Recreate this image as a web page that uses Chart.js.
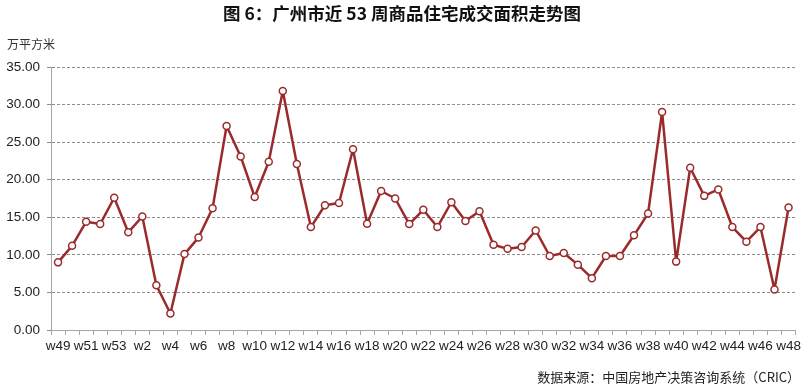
<!DOCTYPE html>
<html>
<head>
<meta charset="utf-8">
<script src="https://cdn.jsdelivr.net/npm/chart.js@4"></script>
<style>
  html, body { margin: 0; padding: 0; background: #fff; }
  #wrap { position: relative; width: 804px; height: 387px; }
  #chart { position: absolute; left: 0; top: 0; }
  .txt { position: absolute; font-family: "Noto Sans CJK SC", sans-serif; color: #222; white-space: nowrap; }
  #title { left: 0; width: 804px; top: 0px; text-align: center; font-size: 17.5px; font-weight: bold; color: #111; }
  #unit { left: 7px; top: 35px; font-size: 12px; color: #333; }
  #source { right: 4px; top: 367px; font-size: 13px; color: #222; }
</style>
</head>
<body>
<div id="wrap">
  <canvas id="chart" width="804" height="387"></canvas>
  <div class="txt" id="title">图 6：广州市近 53 周商品住宅成交面积走势图</div>
  <div class="txt" id="unit">万平方米</div>
  <div class="txt" id="source">数据来源：中国房地产决策咨询系统（CRIC）</div>
</div>
<script>
const weeks = ['w49', 'w50', 'w51', 'w52', 'w53',
  'w1', 'w2', 'w3', 'w4', 'w5', 'w6', 'w7', 'w8', 'w9', 'w10',
  'w11', 'w12', 'w13', 'w14', 'w15', 'w16', 'w17', 'w18', 'w19', 'w20',
  'w21', 'w22', 'w23', 'w24', 'w25', 'w26', 'w27', 'w28', 'w29', 'w30',
  'w31', 'w32', 'w33', 'w34', 'w35', 'w36', 'w37', 'w38', 'w39', 'w40',
  'w41', 'w42', 'w43', 'w44', 'w45', 'w46', 'w47', 'w48'];

// 成交面积（万平方米）
const area = [9.0, 11.2, 14.4, 14.1, 17.6,
  13.0, 15.1, 5.95, 2.2, 10.1, 12.3, 16.2, 27.15, 23.1, 17.7,
  22.4, 31.8, 22.1, 13.7, 16.6, 16.9, 24.05, 14.15, 18.5, 17.5,
  14.1, 16.0, 13.7, 17.0, 14.5, 15.8, 11.35, 10.8, 11.05, 13.25,
  9.85, 10.25, 8.7, 6.9, 9.85, 9.85, 12.6, 15.5, 29.0, 9.1,
  21.6, 17.85, 18.7, 13.7, 11.75, 13.7, 5.4, 16.3];

const yTicks = [0, 5, 10, 15, 20, 25, 30, 35];

const lineColor = '#9B2B2B';

new Chart(document.getElementById('chart').getContext('2d'), {
  type: 'line',
  data: {
    labels: weeks,
    datasets: [{
      data: area,
      borderColor: lineColor,
      borderWidth: 2.5,
      borderJoinStyle: 'round',
      pointRadius: 3.5,
      pointBorderWidth: 1.5,
      pointBackgroundColor: '#fff',
      pointBorderColor: lineColor,
      tension: 0,
      fill: false
    }]
  },
  options: {
    responsive: false,
    animation: false,
    layout: { padding: { top: 67, bottom: 27, left: 0, right: 8 } },
    plugins: { legend: { display: false }, tooltip: { enabled: false } },
    scales: {
      x: {
        offset: true,
        grid: {
          offset: true,
          drawOnChartArea: false,
          drawTicks: true,
          tickLength: 5,
          color: '#A6A6A6'
        },
        border: { color: '#A6A6A6' },
        ticks: {
          autoSkip: false,
          maxRotation: 0,
          padding: 3,
          color: '#222',
          font: { family: 'Liberation Sans, Arial', size: 13.5 },
          callback: (v, i) => (i % 2 === 0 ? weeks[i] : '')
        },
        afterFit: s => { s.height = 30; }
      },
      y: {
        min: 0,
        max: 35,
        afterBuildTicks: s => { s.ticks = yTicks.map(v => ({ value: v })); },
        grid: {
          drawTicks: true,
          tickLength: 4,
          color: '#8C8C8C',
          lineWidth: 1
        },
        border: { color: '#A6A6A6', dash: [3, 2] },
        ticks: {
          padding: 7,
          color: '#222',
          font: { family: 'Liberation Sans, Arial', size: 13.5 },
          callback: v => Number(v).toFixed(2)
        },
        afterFit: s => { s.width = 51; }
      }
    }
  }
});
</script>
</body>
</html>
